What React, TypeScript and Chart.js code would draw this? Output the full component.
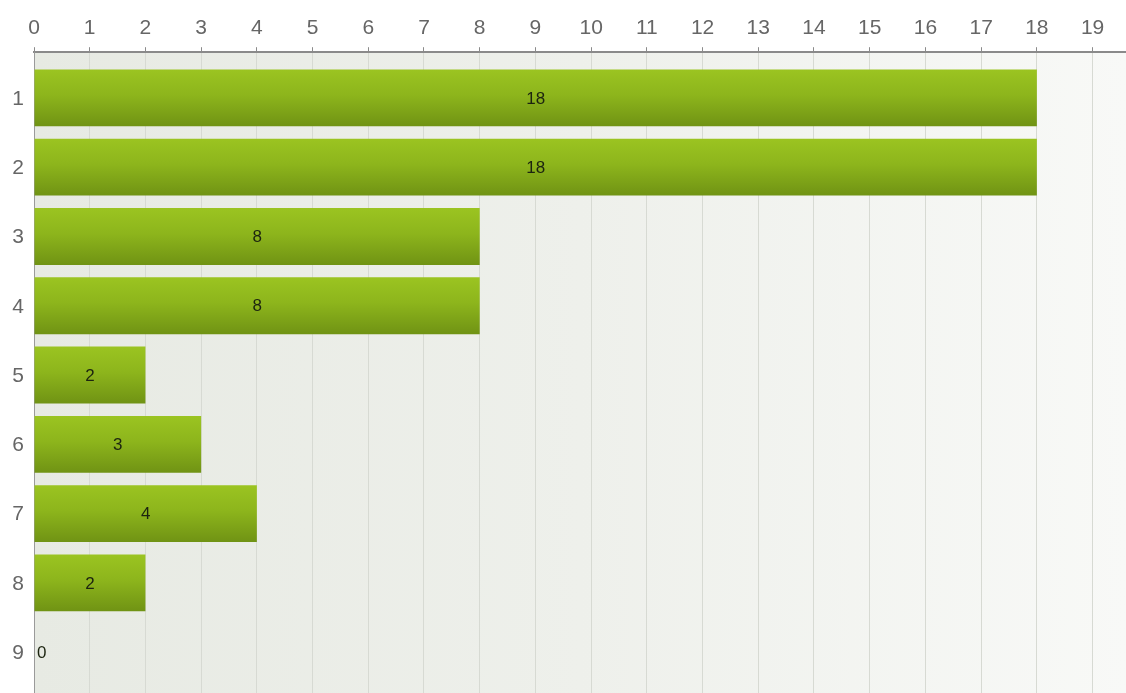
import React, { useEffect, useRef } from "react";
import { Chart, registerables } from "chart.js";

Chart.register(...registerables);

const categories = ["1", "2", "3", "4", "5", "6", "7", "8", "9"];
const values = [18, 18, 8, 8, 2, 3, 4, 2, 0];
const xTickValues = [0, 1, 2, 3, 4, 5, 6, 7, 8, 9, 10, 11, 12, 13, 14, 15, 16, 17, 18, 19];
const xMin = 0;
const xMax = 19.6;
const yMin = 0.34;
const yMax = 9.59;

const BAR_PCT = 0.82;
const FONT = "'Liberation Sans', Arial, sans-serif";

const bgPlugin = {
  id: "bgPlugin",
  beforeDraw(chart: any) {
    const { ctx, chartArea } = chart;
    if (!chartArea) return;
    const g = ctx.createLinearGradient(chartArea.left, 0, chartArea.right, 0);
    g.addColorStop(0, "#e7eae3");
    g.addColorStop(0.5, "#eef0eb");
    g.addColorStop(1, "#f8f9f7");
    ctx.save();
    ctx.fillStyle = g;
    ctx.fillRect(chartArea.left, chartArea.top, chartArea.right - chartArea.left, chartArea.bottom - chartArea.top);
    ctx.restore();
  },
};

const yLabelPlugin = {
  id: "yLabelPlugin",
  afterDraw(chart: any) {
    const { ctx } = chart;
    const ys = chart.scales.y;
    ctx.save();
    ctx.font = `21px ${FONT}`;
    ctx.fillStyle = "#666";
    ctx.textAlign = "center";
    ctx.textBaseline = "middle";
    categories.forEach((c, i) => {
      ctx.fillText(c, 18, ys.getPixelForValue(i + 1) + 1);
    });
    ctx.restore();
  },
};

const labelPlugin = {
  id: "labelPlugin",
  afterDatasetsDraw(chart: any) {
    const { ctx } = chart;
    const meta = chart.getDatasetMeta(0);
    ctx.save();
    ctx.font = `17px ${FONT}`;
    ctx.fillStyle = "#1c2410";
    ctx.textBaseline = "middle";
    meta.data.forEach((el: any, i: number) => {
      const v = values[i];
      const { x, y, base } = el.getProps(["x", "y", "base"], true);
      if (v === 0) {
        ctx.textAlign = "left";
        ctx.fillText(String(v), base + 3, y + 1);
      } else {
        ctx.textAlign = "center";
        ctx.fillText(String(v), (x + base) / 2, y + 1);
      }
    });
    ctx.restore();
  },
};

export default function App() {
  const ref = useRef<HTMLCanvasElement | null>(null);
  useEffect(() => {
    document.body.style.margin = "0";
    const canvas = ref.current!;
    const chart = new Chart(canvas, {
      type: "bar",
      data: {
        datasets: [
          {
            data: values.map((v, i) => ({ x: v, y: i + 1 })),
            backgroundColor: (c: any) => {
              const ch = c.chart;
              const ys = ch.scales && ch.scales.y;
              if (!ys || c.dataIndex === undefined || !ch.chartArea) return "#86ab18";
              const cy = ys.getPixelForValue(c.dataIndex + 1);
              const h = Math.abs(ys.getPixelForValue(2) - ys.getPixelForValue(1)) * BAR_PCT;
              const g = ch.ctx.createLinearGradient(0, cy - h / 2, 0, cy + h / 2);
              g.addColorStop(0, "#9bc421");
              g.addColorStop(0.45, "#8db51c");
              g.addColorStop(1, "#709314");
              return g;
            },
            borderWidth: 0,
            barPercentage: BAR_PCT,
            categoryPercentage: 1,
          },
        ],
      },
      options: {
        indexAxis: "y",
        animation: false,
        responsive: false,
        maintainAspectRatio: false,
        layout: { padding: { top: 10, left: 0, right: 0, bottom: 0 } },
        plugins: { legend: { display: false }, tooltip: { enabled: false } },
        scales: {
          x: {
            type: "linear",
            position: "top",
            min: xMin,
            max: xMax,
            afterBuildTicks: (scale: any) => {
              scale.ticks = xTickValues.map((v) => ({ value: v }));
            },
            ticks: {
              color: "#666",
              font: { size: 21, family: FONT },
              padding: 6,
              maxRotation: 0,
              autoSkip: false,
            },
            grid: { color: "#d7dad3", tickLength: 5, tickColor: "#8a8a8a" },
            border: { color: "#8a8a8a", width: 2 },
          },
          y: {
            type: "linear",
            reverse: true,
            offset: false,
            min: yMin,
            max: yMax,
            afterBuildTicks: (scale: any) => {
              scale.ticks = categories.map((_, i) => ({ value: i + 1 }));
            },
            afterFit: (scale: any) => {
              scale.width = 34;
            },
            ticks: { display: false },
            grid: { display: false, offset: false },
            border: { color: "#9a9a9a", width: 1 },
          },
        },
      },
      plugins: [bgPlugin, labelPlugin, yLabelPlugin],
    } as any);
    return () => chart.destroy();
  }, []);
  return (
    <div style={{ position: "absolute", left: 0, top: 0, width: 1126, height: 693, background: "#fff" }}>
      <canvas ref={ref} width={1126} height={693} style={{ width: 1126, height: 693, display: "block" }} />
    </div>
  );
}
